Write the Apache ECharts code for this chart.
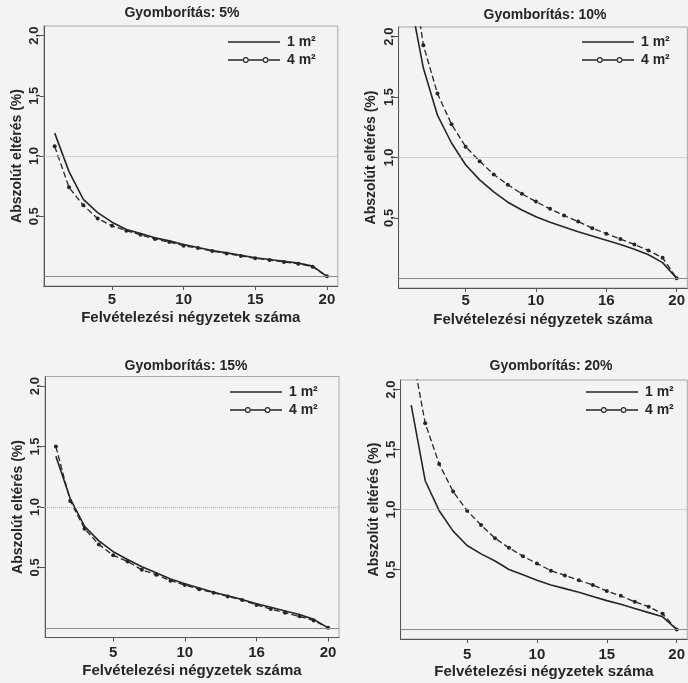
<!DOCTYPE html>
<html>
<head>
<meta charset="utf-8">
<script src="https://cdn.jsdelivr.net/npm/echarts@6/dist/echarts.min.js"></script>
<style>
html,body{margin:0;padding:0;background:#f3f3f1;}
#c{width:688px;height:683px;}
</style>
</head>
<body>
<div id="c"></div>
<script>
// ---------- data ----------
const xValues = [1, 2, 3, 4, 5, 6, 7, 8, 9, 10, 11, 12, 13, 14, 15, 16, 17, 18, 19, 20];
const panelTitles = ['Gyomborítás: 5%', 'Gyomborítás: 10%', 'Gyomborítás: 15%', 'Gyomborítás: 20%'];
const seriesNames = ['1 m²', '4 m²'];
const xAxisTitle = 'Felvételezési négyzetek száma';
const yAxisTitle = 'Abszolút eltérés (%)';

const p5_1m  = [1.19, 0.87, 0.64, 0.53, 0.45, 0.39, 0.355, 0.32, 0.295, 0.265, 0.24, 0.215, 0.195, 0.175, 0.155, 0.14, 0.125, 0.11, 0.085, 0];
const p5_4m  = [1.08, 0.74, 0.59, 0.48, 0.42, 0.38, 0.345, 0.31, 0.285, 0.255, 0.235, 0.21, 0.19, 0.17, 0.15, 0.135, 0.12, 0.105, 0.08, 0];
const p10_1m = [2.35, 1.74, 1.35, 1.12, 0.94, 0.815, 0.715, 0.63, 0.565, 0.51, 0.465, 0.425, 0.385, 0.35, 0.315, 0.28, 0.24, 0.195, 0.13, 0];
const p10_4m = [2.7, 1.93, 1.53, 1.275, 1.09, 0.97, 0.86, 0.775, 0.70, 0.635, 0.575, 0.52, 0.47, 0.415, 0.37, 0.325, 0.28, 0.23, 0.17, 0];
const p15_1m = [1.42, 1.07, 0.84, 0.72, 0.63, 0.565, 0.505, 0.455, 0.405, 0.365, 0.33, 0.295, 0.265, 0.235, 0.2, 0.17, 0.14, 0.11, 0.07, 0];
const p15_4m = [1.50, 1.05, 0.82, 0.69, 0.60, 0.55, 0.48, 0.44, 0.39, 0.355, 0.32, 0.29, 0.26, 0.23, 0.19, 0.155, 0.125, 0.095, 0.06, 0];
const p20_1m = [1.87, 1.24, 0.99, 0.82, 0.70, 0.63, 0.57, 0.50, 0.455, 0.41, 0.37, 0.34, 0.31, 0.275, 0.24, 0.21, 0.175, 0.14, 0.105, 0];
const p20_4m = [2.35, 1.72, 1.38, 1.15, 0.99, 0.87, 0.76, 0.68, 0.61, 0.55, 0.49, 0.45, 0.41, 0.37, 0.32, 0.28, 0.23, 0.19, 0.13, 0];

const xTickValues = [5, 10, 15, 20];
const xTickLabelsA = ['5', '10', '15', '20'];
const xTickLabelsB = ['5', '10', '16', '20'];
const yTickValues = [0.5, 1, 1.5, 2];
const yTickLabels = ['0,5', '1,0', '1,5', '2,0'];
const refLines = [0, 1];

// ---------- layout / style ----------
const FONT = "'Liberation Sans', Arial, sans-serif";
const INK = '#262626';
const layout = [
  {left: 43.8, top: 26, width: 294, height: 260, titleX: 182, titleY: 14, legendX: 228, legendY: 35, xNameGap: 24, yNameGap: 20, xLabelMargin: 6, xLabels: xTickLabelsA},
  {left: 398.6, top: 27, width: 294, height: 261, titleX: 545, titleY: 16, legendX: 582, legendY: 35, xNameGap: 24, yNameGap: 20, xLabelMargin: 5, xLabels: xTickLabelsB},
  {left: 45, top: 376.5, width: 294, height: 261, titleX: 186, titleY: 367, legendX: 230, legendY: 385, xNameGap: 26, yNameGap: 20, xLabelMargin: 8, xLabels: xTickLabelsB},
  {left: 400.6, top: 380, width: 294, height: 259, titleX: 551, titleY: 367, legendX: 586, legendY: 385, xNameGap: 25, yNameGap: 19, xLabelMargin: 8, xLabels: xTickLabelsA}
];
const panelData = [[p5_1m, p5_4m], [p10_1m, p10_4m], [p15_1m, p15_4m], [p20_1m, p20_4m]];

const icon1 = 'path://M0,0H52V1.5H0Z';
const icon4 = 'path://M0,2.3H15.5V3.7H0Z M21.5,2.3H36V3.7H21.5Z M42,2.3H54V3.7H42Z ' +
  'M15.5,3A3,3 0 1 1 21.5,3A3,3 0 1 1 15.5,3Z M16.6,3A1.9,1.9 0 1 0 20.4,3A1.9,1.9 0 1 0 16.6,3Z ' +
  'M36,3A3,3 0 1 1 42,3A3,3 0 1 1 36,3Z M37.1,3A1.9,1.9 0 1 0 40.9,3A1.9,1.9 0 1 0 37.1,3Z';

const pairs = ys => xValues.map((x, i) => [x, ys[i]]);

const option = {
  backgroundColor: '#f3f3f1',
  animation: false,
  title: [], legend: [], grid: [], xAxis: [], yAxis: [], series: []
};

layout.forEach((L, i) => {
  option.title.push({
    text: panelTitles[i], left: L.titleX, top: L.titleY - 8, textAlign: 'center', padding: 0,
    textStyle: {fontFamily: FONT, fontSize: 14, fontWeight: 'bold', color: INK}
  });
  option.legend.push({
    orient: 'vertical', left: L.legendX, top: L.legendY, padding: 0,
    itemWidth: 52, itemHeight: 12, itemGap: 4, selectedMode: false,
    data: [{name: seriesNames[0], icon: icon1}, {name: seriesNames[1], icon: icon4}],
    textStyle: {fontFamily: FONT, fontSize: 14, fontWeight: 'bold', color: INK, padding: [0, 0, 0, 2]}
  });
  option.grid.push({
    left: L.left, top: L.top, width: L.width, height: L.height,
    show: true, borderColor: '#a8a8a8', borderWidth: 1, backgroundColor: 'transparent'
  });
  const xl = L.xLabels;
  option.xAxis.push({
    type: 'value', gridIndex: i, min: 0.24, max: 20.76,
    name: xAxisTitle, nameLocation: 'middle', nameGap: L.xNameGap,
    nameTextStyle: {fontFamily: FONT, fontSize: 15, fontWeight: 'bold', color: INK},
    axisLine: {show: true, onZero: false, lineStyle: {color: '#555', width: 1}},
    axisTick: {show: true, customValues: xTickValues, length: 4, lineStyle: {color: '#555'}},
    axisLabel: {
      customValues: xTickValues, margin: L.xLabelMargin,
      formatter: v => xl[xTickValues.indexOf(v)],
      fontFamily: FONT, fontSize: 15, fontWeight: 'bold', color: INK
    },
    splitLine: {show: false}
  });
  option.yAxis.push({
    type: 'value', gridIndex: i, min: -0.08, max: 2.08,
    name: yAxisTitle, nameLocation: 'middle', nameGap: L.yNameGap,
    nameTextStyle: {fontFamily: FONT, fontSize: 14, fontWeight: 'bold', color: INK},
    axisLine: {show: true, onZero: false, lineStyle: {color: '#555', width: 1}},
    axisTick: {show: true, customValues: yTickValues, length: 4, lineStyle: {color: '#555'}},
    axisLabel: {
      customValues: yTickValues, rotate: 90, margin: 3,
      formatter: v => yTickLabels[yTickValues.indexOf(v)],
      fontFamily: FONT, fontSize: 13, fontWeight: 'bold', color: INK
    },
    splitLine: {show: false}
  });
  option.series.push({
    name: seriesNames[0], type: 'line', xAxisIndex: i, yAxisIndex: i,
    data: pairs(panelData[i][0]), symbol: 'none', clip: true,
    color: INK, lineStyle: {color: INK, width: 1.6},
    markLine: {
      silent: true, symbol: 'none', label: {show: false},
      data: [
        {yAxis: refLines[0], lineStyle: {color: '#8a8a8a', width: 1, type: 'solid'}},
        {yAxis: refLines[1], lineStyle: {color: '#b0b0b0', width: 1, type: 'dotted'}}
      ]
    },
    z: 3
  });
  option.series.push({
    name: seriesNames[1], type: 'line', xAxisIndex: i, yAxisIndex: i,
    data: pairs(panelData[i][1]), symbol: 'circle', symbolSize: 4, clip: true,
    color: INK, itemStyle: {color: INK},
    lineStyle: {color: INK, width: 1.3, type: [6, 3]},
    z: 4
  });
});

const chart = echarts.init(document.getElementById('c'), null, {renderer: 'canvas'});
chart.setOption(option);
</script>
</body>
</html>
